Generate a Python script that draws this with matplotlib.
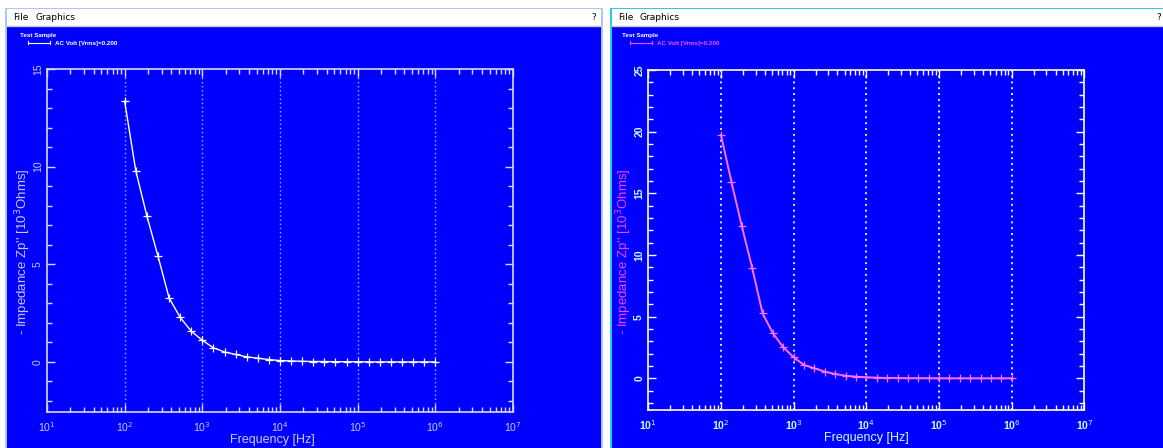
import matplotlib
matplotlib.use("Agg")
import matplotlib.pyplot as plt
from matplotlib.patches import Rectangle
from matplotlib.ticker import LogLocator, MultipleLocator, FixedLocator, NullFormatter

plt.rcParams['font.family'] = ['Liberation Sans', 'DejaVu Sans']

# frecuencias medidas (7 puntos por decada)
frecuencias = [100, 139, 193, 268, 373, 518, 720, 1000, 1389, 1931, 2683, 3728, 5179,
               7197, 10000, 13895, 19307, 26827, 37276, 51795, 71969, 100000, 138950,
               193070, 268270, 372760, 517950, 719690, 1000000]

# -Z'' ventana izquierda (10^3 Ohms)
zp_izq = [13.35, 9.79, 7.48, 5.43, 3.28, 2.28, 1.57, 1.11, 0.72, 0.51, 0.38, 0.26, 0.19,
          0.12, 0.07, 0.05, 0.03, 0.02, 0.02, 0.01, 0.01, 0.01, 0.0, 0.0, 0.0, 0.0, 0.0,
          0.0, 0.0]

# -Z'' ventana derecha (10^3 Ohms)
zp_der = [19.73, 15.94, 12.35, 8.97, 5.27, 3.65, 2.51, 1.70, 1.08, 0.81, 0.54, 0.35, 0.21,
          0.13, 0.08, 0.05, 0.03, 0.02, 0.01, 0.01, 0.01, 0.0, 0.0, 0.0, 0.0, 0.0, 0.0,
          0.0, 0.0]

decadas = [1e1, 1e2, 1e3, 1e4, 1e5, 1e6, 1e7]
etiquetas_x = ['10$^{1}$', '10$^{2}$', '10$^{3}$', '10$^{4}$', '10$^{5}$', '10$^{6}$', '10$^{7}$']
etiqueta_y = "- Impedance Zp'' [10$^{3}$Ohms]"
etiqueta_x = 'Frequency [Hz]'
leyenda_titulo = 'Test Sample'
leyenda_serie = 'AC Volt [Vrms]=0.200'

W, H = 1163, 448
AZUL = '#0000FF'

fig = plt.figure(figsize=(W / 100, H / 100), dpi=100, facecolor='white')

# fondo: las dos ventanas del programa
bg = fig.add_axes([0, 0, 1, 1])
bg.set_xlim(0, W)
bg.set_ylim(H, 0)
bg.axis('off')


def ventana(x0, x1, borde, signo_x):
    bg.add_patch(Rectangle((x0, 8), x1 - x0, H - 8, facecolor=borde, edgecolor='none'))
    bg.add_patch(Rectangle((x0 + 2, 9), x1 - x0 - 4, 17, facecolor='white', edgecolor='none'))
    bg.add_patch(Rectangle((x0 + 2, 26), x1 - x0 - 4, H - 26, facecolor=AZUL, edgecolor='none'))
    bg.plot([x0 + 2, x1 - 2], [26, 26], color='#C8C8D8', lw=1)
    bg.text(x0 + 8, 17.5, 'File', fontsize=6.5, va='center', family='DejaVu Sans')
    bg.text(x0 + 30, 17.5, 'Graphics', fontsize=6.5, va='center', family='DejaVu Sans')
    bg.text(signo_x, 17.5, '?', fontsize=6.5, va='center', ha='center', family='DejaVu Sans')


ventana(5, 603, '#A8C8F0', 594)
ventana(610, 1170, '#30C8F0', 1159)


def leyenda(x, color_titulo, color_serie):
    bg.text(x, 35, leyenda_titulo, fontsize=4.5, fontweight='bold', color=color_titulo, va='center')
    bg.plot([x + 8, x + 30], [43, 43], color=color_serie, lw=0.8)
    bg.plot([x + 8, x + 8], [41.5, 44.5], color=color_serie, lw=0.8)
    bg.plot([x + 30, x + 30], [41.5, 44.5], color=color_serie, lw=0.8)
    bg.text(x + 35, 43, leyenda_serie, fontsize=4.5, fontweight='bold', color=color_serie, va='center')


leyenda(20, 'white', 'white')
leyenda(622, 'white', '#FF50FF')


def graficar(rect, zp, ymin, ymax, paso, c_linea, c_eje, c_texto, c_ylab, c_grid, lw, bold, xlab_pos):
    ax = fig.add_axes(rect)
    ancho_px = rect[2] * W
    alto_px = rect[3] * H
    arriba_px = H - (rect[1] + rect[3]) * H
    ax.set_facecolor(AZUL)
    ax.set_xscale('log')
    ax.set_xlim(1e1, 1e7)
    ax.set_ylim(ymin, ymax)
    for d in decadas[1:-1]:
        ax.axvline(d, color=c_grid, lw=lw, ls=(0, (1, 2)), zorder=1)
    ax.plot(frecuencias, zp, color=c_linea, lw=lw, marker='+', ms=6, mew=0.9, zorder=3)
    for s in ax.spines.values():
        s.set_color(c_eje)
        s.set_linewidth(1.2)
    ax.xaxis.set_major_locator(FixedLocator(decadas))
    ax.set_xticklabels(etiquetas_x)
    ax.xaxis.set_minor_locator(LogLocator(base=10, subs=range(2, 10)))
    ax.xaxis.set_minor_formatter(NullFormatter())
    ax.yaxis.set_major_locator(MultipleLocator(paso))
    ax.yaxis.set_minor_locator(MultipleLocator(1))
    peso = 'bold' if bold else 'normal'
    ax.tick_params(which='both', direction='in', top=True, right=True, colors=c_eje,
                   labelcolor=c_texto, labelsize=7.5, width=1)
    ax.tick_params(which='major', length=6)
    ax.tick_params(axis='x', which='major', pad=6)
    ax.tick_params(axis='y', which='major', pad=3)
    ax.tick_params(which='minor', length=3.5)
    for t in ax.get_yticklabels():
        t.set_rotation(90)
        t.set_va('center')
        t.set_fontweight(peso)
    for t in ax.get_xticklabels():
        t.set_fontweight(peso)
    # etiqueta y centrada algo por debajo del centro del eje, como en la captura
    ax.set_ylabel(etiqueta_y, color=c_ylab, fontsize=9.5)
    ax.yaxis.set_label_coords(-24 / ancho_px, 1 - (252 - arriba_px) / alto_px)
    ax.yaxis.label.set_va('center')
    ax.set_xlabel(etiqueta_x, color=c_texto, fontsize=9)
    ax.xaxis.set_label_coords(xlab_pos, -0.065)
    return ax


graficar([47 / W, (H - 411.7) / H, 466 / W, 342.7 / H], zp_izq, -2.55, 15, 5,
         'white', '#D8D8FF', '#C8C8FF', '#C8C8FF', '#B0B0FF', 1.0, False, 0.483)
graficar([648.3 / W, (H - 410) / H, 436.2 / W, 340 / H], zp_der, -2.57, 25, 5,
         '#FF70FF', 'white', '#C8FFFF', '#FF40FF', '#D0F0FF', 1.4, True, 0.5)

fig.savefig('out.png', dpi=100, facecolor='white')
